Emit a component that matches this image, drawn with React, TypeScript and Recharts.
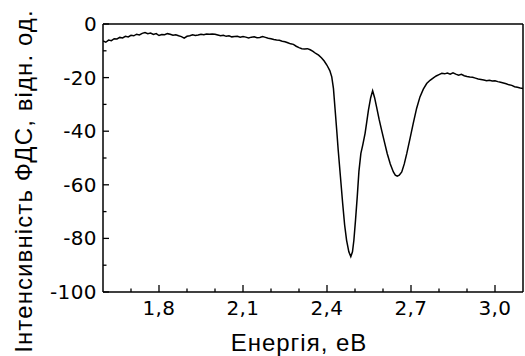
import React from 'react';
import { LineChart, Line, XAxis, YAxis, ReferenceLine } from 'recharts';

const energy = [
  1.60, 1.61, 1.62, 1.63, 1.64, 1.65, 1.66, 1.67, 1.68, 1.69,
  1.70, 1.71, 1.72, 1.73, 1.74, 1.75, 1.76, 1.77, 1.78, 1.79,
  1.80, 1.81, 1.82, 1.83, 1.84, 1.85, 1.86, 1.87, 1.88, 1.89,
  1.90, 1.91, 1.92, 1.93, 1.94, 1.95, 1.96, 1.97, 1.98, 1.99,
  2.00, 2.01, 2.02, 2.03, 2.04, 2.05, 2.06, 2.07, 2.08, 2.09,
  2.10, 2.11, 2.12, 2.13, 2.14, 2.15, 2.16, 2.17, 2.18, 2.19,
  2.20, 2.21, 2.22, 2.23, 2.24, 2.25, 2.26, 2.27, 2.28, 2.29,
  2.30, 2.31, 2.32, 2.33, 2.34, 2.35, 2.36, 2.37, 2.38, 2.39,
  2.40, 2.41, 2.417, 2.423, 2.429, 2.435, 2.44, 2.448, 2.456, 2.463,
  2.47, 2.478, 2.485, 2.491, 2.496, 2.502, 2.508, 2.514, 2.521, 2.528,
  2.536, 2.542, 2.548, 2.556, 2.563, 2.57, 2.577, 2.586, 2.595, 2.605,
  2.615, 2.626, 2.637, 2.644, 2.651, 2.658, 2.667, 2.676, 2.685, 2.697,
  2.708, 2.72, 2.732, 2.744, 2.756, 2.768, 2.78, 2.79, 2.80, 2.81,
  2.82, 2.83, 2.84, 2.85, 2.86, 2.87, 2.88, 2.89, 2.90, 2.91,
  2.92, 2.93, 2.94, 2.95, 2.96, 2.97, 2.98, 2.99, 3.00, 3.01,
  3.02, 3.03, 3.04, 3.05, 3.06, 3.07, 3.08, 3.09, 3.10,
];

const intensity = [
  -6.3, -6.8, -6.0, -6.2, -5.5, -5.6, -5.0, -5.2, -4.6, -4.8,
  -4.2, -4.4, -3.8, -4.1, -3.5, -3.2, -3.6, -3.4, -3.9, -3.6,
  -4.3, -3.9, -4.0, -3.6, -3.8, -4.2, -4.0, -4.4, -4.7, -5.3,
  -4.6, -4.4, -4.0, -4.3, -4.1, -3.8, -4.0, -3.7, -3.8, -3.7,
  -3.8, -4.1, -4.4, -4.2, -4.6, -4.4, -4.8, -4.7, -4.6, -4.9,
  -4.7, -4.9, -5.2, -4.9, -4.8, -5.1, -5.0, -4.7, -5.0, -5.3,
  -5.5, -5.8, -6.0, -6.1, -6.4, -6.6, -7.0, -7.4, -7.6, -8.3,
  -8.8, -9.2, -9.3, -9.2, -9.6, -10.2, -11.0, -11.6, -12.6, -13.8,
  -15.4, -17.4, -19.7, -24, -32, -40, -47, -57, -67, -75,
  -80.7, -85, -86.8, -85, -80.7, -73, -64.5, -55, -48.3, -45,
  -40.8, -36.5, -32.1, -27.5, -24.9, -27.5, -30.9, -35.5, -39.6, -44,
  -48.3, -52.2, -55.2, -56.4, -56.8, -56.4, -55.2, -52.2, -48.3, -42.5,
  -37.1, -31.5, -27.2, -24.3, -22.2, -21.0, -20.1, -19.4, -18.9, -18.4,
  -18.6, -18.3, -18.7, -18.2, -18.7, -19.1, -18.8, -19.3, -19.6, -19.8,
  -19.9, -20.2, -20.5, -20.7, -20.9, -21.2, -21.0, -21.3, -21.2, -21.5,
  -21.7, -22.0, -22.3, -22.7, -22.9, -23.4, -23.6, -23.9, -24.1,
];

const xTicks = [1.7, 1.8, 1.9, 2.0, 2.1, 2.2, 2.3, 2.4, 2.5, 2.6, 2.7, 2.8, 2.9, 3.0];
const xMajor = [1.8, 2.1, 2.4, 2.7, 3.0];
const yTicks = [0, -10, -20, -30, -40, -50, -60, -70, -80, -90, -100];
const yMajor = [0, -20, -40, -60, -80, -100];

const data = energy.map((e, i) => ({ e, v: intensity[i] }));

const TICK_FONT = '"DejaVu Sans", Verdana, sans-serif';
const LABEL_FONT = '"Liberation Sans", Arial, sans-serif';

const isMajor = (list: number[], v: number) => list.some((m) => Math.abs(m - v) < 1e-6);

const XTick = (props: any) => {
  const { x, y, payload } = props;
  const v = payload.value;
  const major = isMajor(xMajor, v);
  const axisY = y - 8;
  return (
    <g>
      <line x1={x} x2={x} y1={axisY} y2={axisY - (major ? 7 : 3.5)} stroke="#000" strokeWidth={1.3} />
      {major && (
        <text x={x} y={axisY + 23} textAnchor="middle" fontFamily={TICK_FONT} fontSize={20} letterSpacing={0.4} fill="#000">
          {v.toFixed(1).replace('.', ',')}
        </text>
      )}
    </g>
  );
};

const YTick = (props: any) => {
  const { x, y, payload } = props;
  const v = payload.value;
  const major = isMajor(yMajor, v);
  const axisX = x + 6;
  return (
    <g>
      <line x1={axisX} x2={axisX + (major ? 6 : 3.5)} y1={y} y2={y} stroke="#000" strokeWidth={1.3} />
      {major && (
        <text x={x} y={y} dy="0.35em" textAnchor="end" fontFamily={TICK_FONT} fontSize={20} letterSpacing={0.4} fill="#000">
          {v}
        </text>
      )}
    </g>
  );
};

const XLabel = (props: any) => {
  const vb = props.viewBox;
  return (
    <text x={vb.x + vb.width / 2 - 14} y={351} textAnchor="middle" fontFamily={LABEL_FONT} fontSize={24} letterSpacing={1} fill="#000">
      Енергія, еВ
    </text>
  );
};

const YLabel = () => {
  const cx = 32;
  const cy = 181;
  return (
    <text
      x={cx}
      y={cy}
      transform={`rotate(-90, ${cx}, ${cy})`}
      textAnchor="middle"
      fontFamily={LABEL_FONT}
      fontSize={24}
      letterSpacing={1.1}
      fill="#000"
    >
      Інтенсивність ФДС, відн. од.
    </text>
  );
};

export default function App() {
  return (
    <div style={{ position: 'absolute', left: 0, top: 0, background: '#fff' }}>
      <LineChart width={525} height={356} data={data} margin={{ top: 24, right: 2, bottom: 34, left: 0 }}>
        <XAxis
          dataKey="e"
          type="number"
          domain={[1.6, 3.1]}
          allowDataOverflow
          ticks={xTicks}
          tick={<XTick />}
          tickLine={false}
          tickSize={0}
          tickMargin={8}
          height={30}
          interval={0}
          axisLine={{ stroke: '#000', strokeWidth: 1.5 }}
          label={<XLabel />}
        />
        <YAxis
          type="number"
          domain={[-100, 0]}
          allowDataOverflow
          ticks={yTicks}
          tick={<YTick />}
          tickLine={false}
          tickSize={0}
          tickMargin={6}
          width={103}
          interval={0}
          axisLine={{ stroke: '#000', strokeWidth: 1.5 }}
          label={<YLabel />}
        />
        <ReferenceLine y={0} stroke="#000" strokeWidth={1.5} ifOverflow="extendDomain" />
        <ReferenceLine x={3.1} stroke="#000" strokeWidth={1.5} ifOverflow="extendDomain" />
        <Line
          dataKey="v"
          type="linear"
          stroke="#000"
          strokeWidth={1.5}
          dot={false}
          isAnimationActive={false}
        />
      </LineChart>
    </div>
  );
}
